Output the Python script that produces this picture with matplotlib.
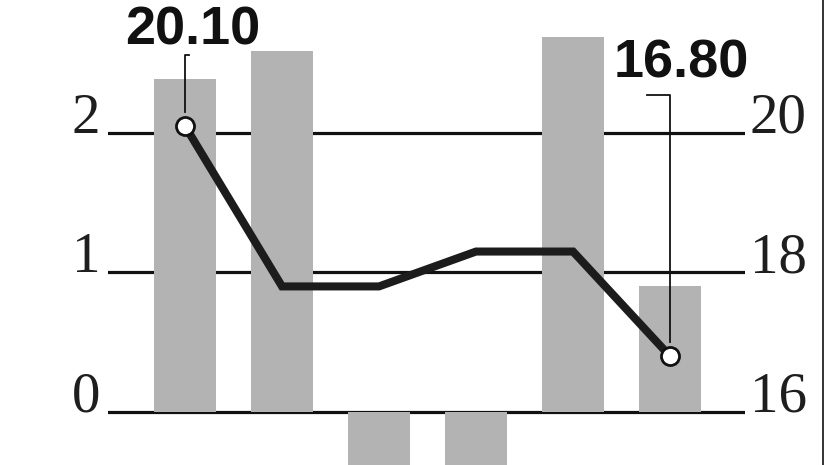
import numpy as np
import matplotlib.pyplot as plt
from matplotlib.lines import Line2D

# bar series (left axis) and line series (right axis)
bar_vals = [2.39, 2.59, -0.55, -0.45, 2.69, 0.90]
line_vals = [20.10, 17.80, 17.80, 18.30, 18.30, 16.80]
left_ticks = [0, 1, 2]
right_ticks = [16, 18, 20]
first_label = "20.10"
last_label = "16.80"

tick_font = ['Liberation Serif', 'DejaVu Serif']
lab_font = ['Liberation Sans', 'DejaVu Sans']

x = np.arange(len(bar_vals))

fig = plt.figure(figsize=(8.26, 4.65), dpi=100)
ax = fig.add_axes([108/826, 0, 637/826, 1])
ax2 = ax.twinx()

ax.set_xlim(-0.794, 5.773)
ax.set_ylim(-0.38, 2.953)
ax2.set_ylim(15.24, 21.906)

for t in left_ticks:
    ax.axhline(t, color='#111111', lw=2.3, zorder=1)
ax.bar(x, bar_vals, width=0.63, color='#b2b3b2', zorder=2)

ax2.plot(x, line_vals, color='#1c1c1c', lw=5.8, solid_joinstyle='miter', zorder=3)
ends = [0, len(x) - 1]
ax2.plot(x[ends], [line_vals[i] for i in ends], 'o', ms=13, mfc='white',
         mec='#111111', mew=2, zorder=4)

# leader lines + end labels
ax2.plot([x[0], x[0], x[0] + 0.045], [line_vals[0] + 0.2, 21.12, 21.12],
         color='#111111', lw=1.3, zorder=3)
ax2.text(x[0] + 0.08, 21.27, first_label, ha='center', va='baseline',
         fontsize=39, fontweight='bold', family=lab_font, color='#111111')
ax2.plot([x[-1], x[-1], x[-1] - 0.24], [line_vals[-1] + 0.2, 20.55, 20.55],
         color='#111111', lw=1.3, zorder=3)
ax2.text(x[-1] + 0.12, 20.80, last_label, ha='center', va='baseline',
         fontsize=39, fontweight='bold', family=lab_font, color='#111111')

for a in (ax, ax2):
    for s in a.spines.values():
        s.set_visible(False)
    a.set_xticks([])
    a.set_yticks([])

for t in left_ticks:
    ax.text(-0.875, t, str(t), ha='right', va='baseline', fontsize=41,
            family=tick_font, color='#1e1e1e')
for t in right_ticks:
    ax2.text(5.82, t, str(t), ha='left', va='baseline', fontsize=41,
             family=tick_font, color='#1e1e1e')

fig.add_artist(Line2D([823/826, 823/826], [0, 1], color='#333333', lw=1.4))

fig.savefig('out.png', dpi=100)
